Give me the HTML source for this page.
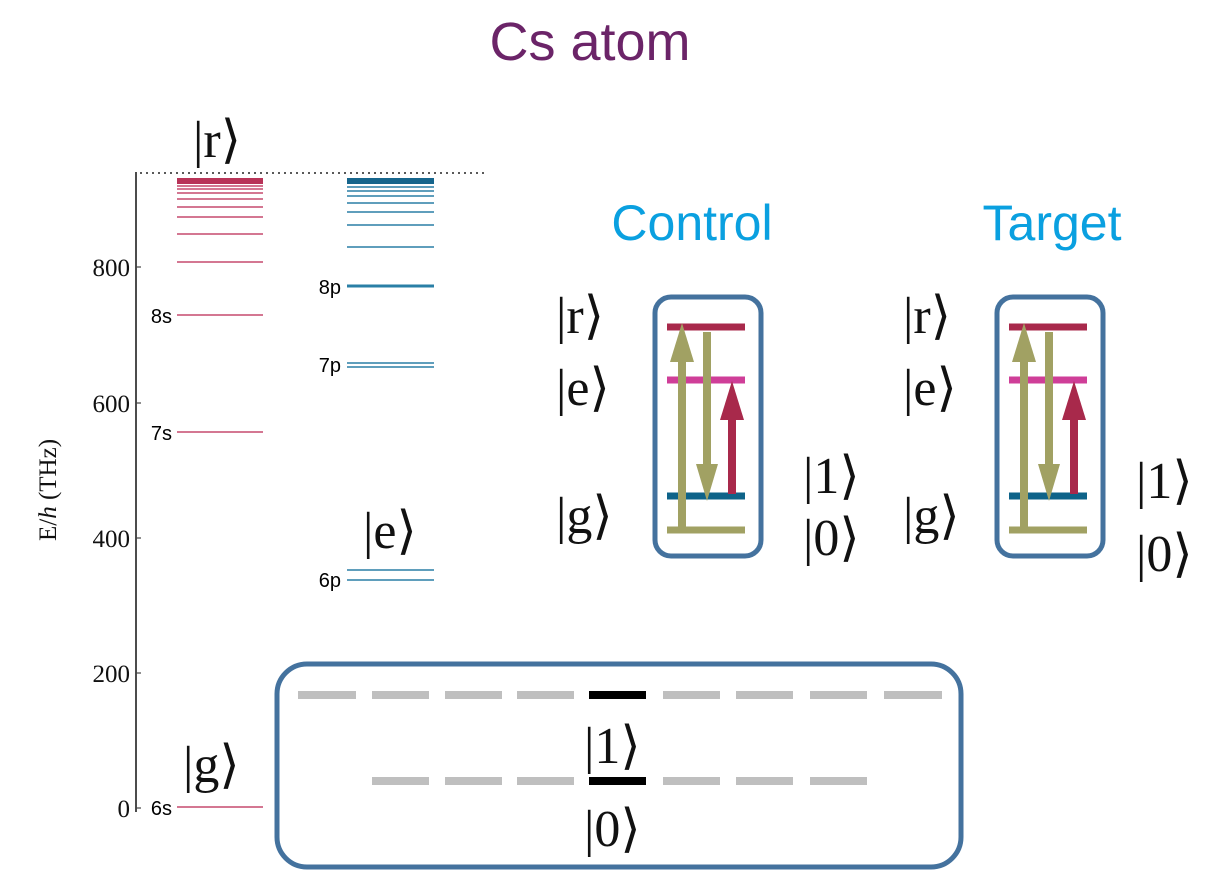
<!DOCTYPE html>
<html><head><meta charset="utf-8"><style>
html,body{margin:0;padding:0;background:#fff;}
svg{display:block;}
.k{font-family:"Liberation Serif","DejaVu Serif",serif;font-size:52px;fill:#111;}
.s{font-family:"Liberation Sans","DejaVu Sans",sans-serif;font-size:20px;fill:#000;}
.t{font-family:"Liberation Serif",serif;font-size:25px;fill:#111;}
</style></head><body>
<svg width="1228" height="883" viewBox="0 0 1228 883" xmlns="http://www.w3.org/2000/svg">
<defs>
<g id="ctl">
  <rect x="655" y="297" width="106" height="259" rx="16" fill="none" stroke="#44729e" stroke-width="5"/>
  <line x1="667" y1="327" x2="745" y2="327" stroke="#a8294b" stroke-width="7"/>
  <line x1="667" y1="380" x2="745" y2="380" stroke="#cf3e98" stroke-width="7"/>
  <line x1="667" y1="496" x2="745" y2="496" stroke="#0e6389" stroke-width="7"/>
  <line x1="667" y1="530" x2="745" y2="530" stroke="#a1a163" stroke-width="7"/>
  <line x1="682" y1="530" x2="682" y2="360" stroke="#a1a163" stroke-width="8"/>
  <polygon points="682,323 670,362 694,362" fill="#a1a163"/>
  <line x1="707" y1="332" x2="707" y2="465" stroke="#a1a163" stroke-width="8"/>
  <polygon points="707,501 696,464 718,464" fill="#a1a163"/>
  <line x1="732" y1="494" x2="732" y2="418" stroke="#a8294b" stroke-width="8"/>
  <polygon points="732,381 720,420 744,420" fill="#a8294b"/>
</g>
</defs>

<text x="590" y="60" text-anchor="middle" font-family="Liberation Sans,sans-serif" font-size="54" fill="#6b2468">Cs atom</text>
<text x="692" y="240" text-anchor="middle" font-family="Liberation Sans,sans-serif" font-size="50" fill="#0aa0e0">Control</text>
<text x="1052" y="240" text-anchor="middle" font-family="Liberation Sans,sans-serif" font-size="50" fill="#0aa0e0">Target</text>

<line x1="136" y1="172" x2="136" y2="812" stroke="#111" stroke-width="1.5"/>
<g stroke="#444" stroke-width="1.2">
<line x1="136" y1="808" x2="141" y2="808"/><line x1="136" y1="673" x2="141" y2="673"/>
<line x1="136" y1="538" x2="141" y2="538"/><line x1="136" y1="403" x2="141" y2="403"/>
<line x1="136" y1="267" x2="141" y2="267"/>
</g>
<g class="t" text-anchor="end">
<text x="130" y="817">0</text><text x="130" y="682">200</text><text x="130" y="547">400</text>
<text x="130" y="412">600</text><text x="130" y="276">800</text>
</g>
<text class="t" transform="translate(56,490) rotate(-90)" text-anchor="middle">E/<tspan font-style="italic">h</tspan> (THz)</text>
<line x1="140" y1="173" x2="485" y2="173" stroke="#222" stroke-width="1.5" stroke-dasharray="2,4"/>

<g stroke="#c64a6e" stroke-width="1.6">
<line x1="177" y1="807" x2="263" y2="807"/>
<line x1="177" y1="432" x2="263" y2="432"/>
<line x1="177" y1="315" x2="263" y2="315"/>
<line x1="177" y1="262" x2="263" y2="262"/>
<line x1="177" y1="234" x2="263" y2="234"/>
<line x1="177" y1="217" x2="263" y2="217"/>
<line x1="177" y1="207" x2="263" y2="207"/>
<line x1="177" y1="199" x2="263" y2="199"/>
<line x1="177" y1="193" x2="263" y2="193"/>
<line x1="177" y1="189" x2="263" y2="189"/>
<line x1="177" y1="186" x2="263" y2="186"/>
</g>
<rect x="177" y="178" width="86" height="6" fill="#b83358"/>
<g stroke="#2a7fa6" stroke-width="1.6">
<line x1="347" y1="570" x2="434" y2="570"/>
<line x1="347" y1="580" x2="434" y2="580"/>
<line x1="347" y1="363" x2="434" y2="363"/>
<line x1="347" y1="367" x2="434" y2="367"/>
<line x1="347" y1="286" x2="434" y2="286" stroke-width="3"/>
<line x1="347" y1="247" x2="434" y2="247"/>
<line x1="347" y1="225" x2="434" y2="225"/>
<line x1="347" y1="212" x2="434" y2="212"/>
<line x1="347" y1="203" x2="434" y2="203"/>
<line x1="347" y1="196" x2="434" y2="196"/>
<line x1="347" y1="191" x2="434" y2="191"/>
<line x1="347" y1="187" x2="434" y2="187"/>
</g>
<rect x="347" y="178" width="87" height="6" fill="#16658c"/>
<g class="s" text-anchor="end">
<text x="172" y="815">6s</text><text x="172" y="440">7s</text><text x="172" y="323">8s</text>
<text x="341" y="587">6p</text><text x="341" y="372">7p</text><text x="341" y="294">8p</text>
</g>
<text class="k" x="193" y="157">|r⟩</text>
<text class="k" x="363" y="548">|e⟩</text>
<text class="k" x="183" y="782">|g⟩</text>

<use href="#ctl"/>
<use href="#ctl" transform="translate(342,0)"/>
<g class="k">
<text x="556" y="333">|r⟩</text><text x="556" y="405">|e⟩</text><text x="556" y="533">|g⟩</text>
<text x="803" y="493">|1⟩</text><text x="803" y="555">|0⟩</text>
<text x="903" y="333">|r⟩</text><text x="903" y="405">|e⟩</text><text x="903" y="533">|g⟩</text>
<text x="1136" y="498">|1⟩</text><text x="1136" y="571">|0⟩</text>
</g>

<rect x="277" y="664" width="684" height="203" rx="30" fill="none" stroke="#44729e" stroke-width="5"/>
<g stroke="#bfbfbf" stroke-width="8">
<line x1="298" y1="695" x2="356" y2="695"/><line x1="372" y1="695" x2="429" y2="695"/>
<line x1="445" y1="695" x2="502" y2="695"/><line x1="517" y1="695" x2="574" y2="695"/>
<line x1="663" y1="695" x2="720" y2="695"/><line x1="736" y1="695" x2="793" y2="695"/>
<line x1="810" y1="695" x2="867" y2="695"/><line x1="884" y1="695" x2="942" y2="695"/>
<line x1="372" y1="781" x2="429" y2="781"/><line x1="445" y1="781" x2="502" y2="781"/>
<line x1="517" y1="781" x2="574" y2="781"/>
<line x1="663" y1="781" x2="720" y2="781"/><line x1="736" y1="781" x2="793" y2="781"/>
<line x1="810" y1="781" x2="867" y2="781"/>
</g>
<line x1="589" y1="695" x2="646" y2="695" stroke="#000" stroke-width="8"/>
<line x1="589" y1="781" x2="646" y2="781" stroke="#000" stroke-width="8"/>
<text class="k" x="584" y="763">|1⟩</text>
<text class="k" x="584" y="846">|0⟩</text>
</svg>
</body></html>
